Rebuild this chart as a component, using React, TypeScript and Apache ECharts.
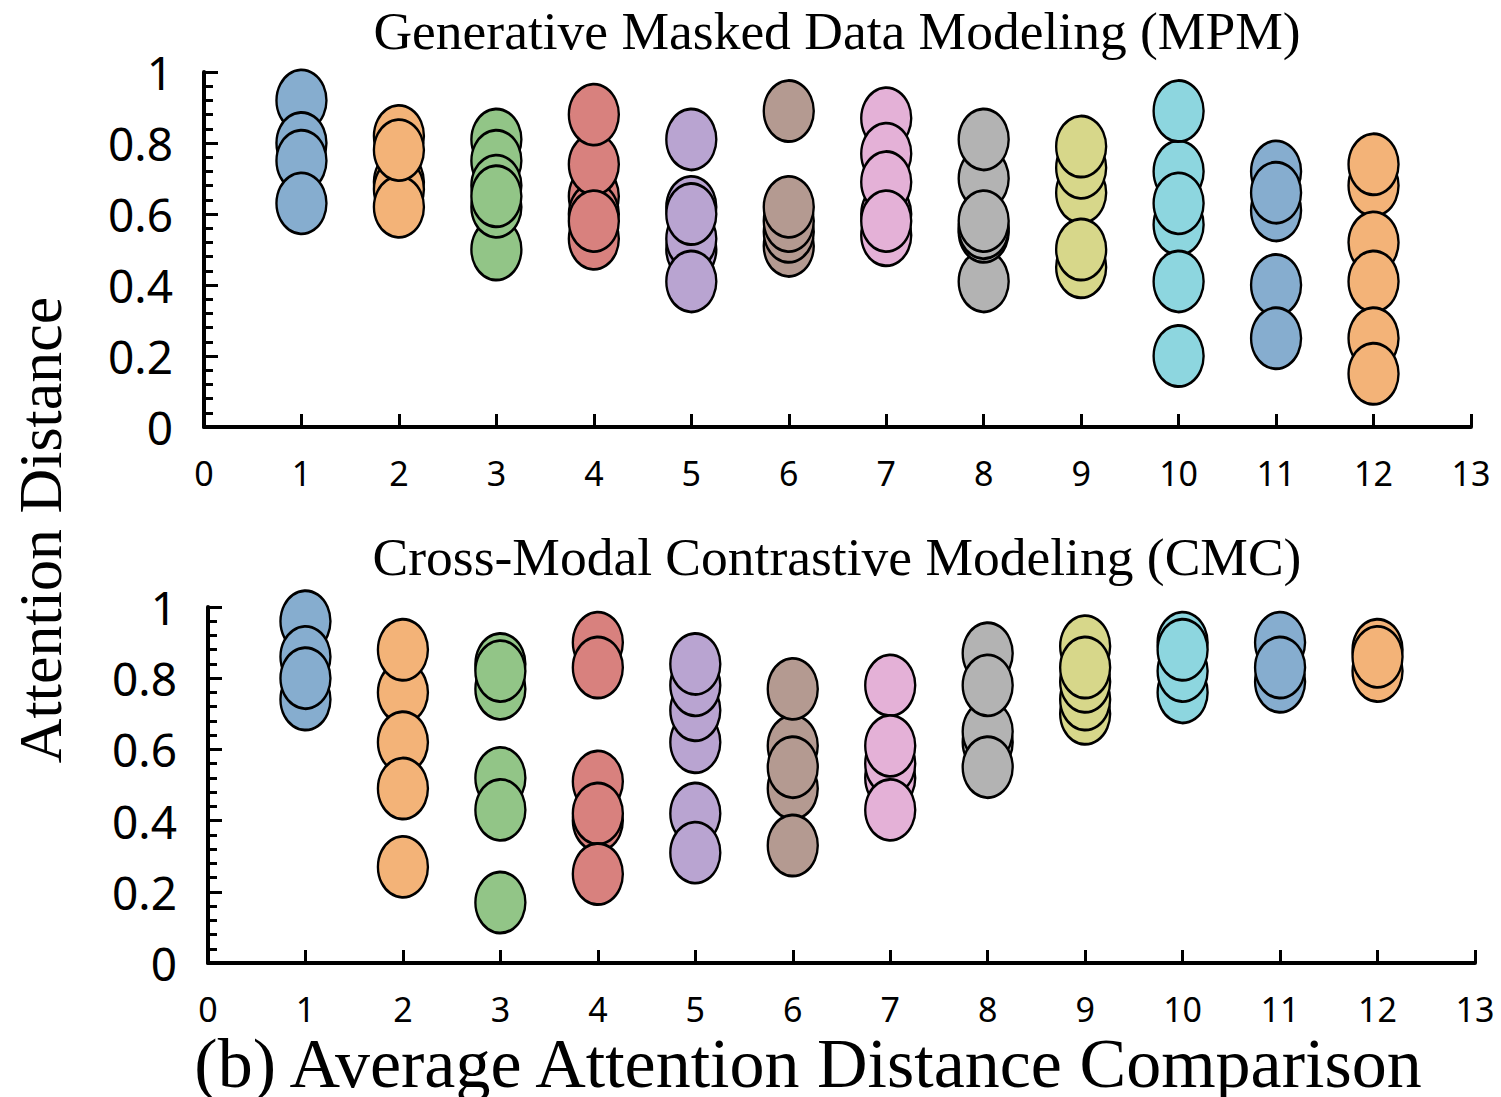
import React, { useEffect, useRef } from "react";
import * as echarts from "echarts";

// Layer indices 1..12
const layers = [1, 2, 3, 4, 5, 6, 7, 8, 9, 10, 11, 12];
const xTicks = [0, 1, 2, 3, 4, 5, 6, 7, 8, 9, 10, 11, 12, 13];
const yTicks = [0, 0.2, 0.4, 0.6, 0.8, 1];

const layerColors = [
  "#86adcf", "#f3b378", "#92c587", "#d8817e", "#b9a4d1", "#b49a91",
  "#e4b1d7", "#b3b3b3", "#d7d78a", "#8dd6df", "#86adcf", "#f3b378",
];

// Generative Masked Data Modeling (MPM): per-layer head attention distances
const mpmL1 = [0.92, 0.8, 0.75, 0.63];
const mpmL2 = [0.82, 0.69, 0.67, 0.62, 0.78];
const mpmL3 = [0.5, 0.81, 0.75, 0.68, 0.62, 0.65];
const mpmL4 = [0.53, 0.65, 0.6, 0.74, 0.88, 0.58];
const mpmL5 = [0.5, 0.53, 0.62, 0.41, 0.6, 0.81];
const mpmL6 = [0.51, 0.55, 0.58, 0.62, 0.89];
const mpmL7 = [0.54, 0.6, 0.87, 0.77, 0.69, 0.58];
const mpmL8 = [0.41, 0.55, 0.56, 0.7, 0.58, 0.81];
const mpmL9 = [0.45, 0.66, 0.73, 0.79, 0.5];
const mpmL10 = [0.57, 0.72, 0.63, 0.41, 0.89, 0.2];
const mpmL11 = [0.61, 0.72, 0.66, 0.4, 0.25];
const mpmL12 = [0.68, 0.74, 0.52, 0.41, 0.25, 0.15];

// Cross-Modal Contrastive Modeling (CMC)
const cmcL1 = [0.74, 0.96, 0.86, 0.8];
const cmcL2 = [0.76, 0.88, 0.62, 0.49, 0.27];
const cmcL3 = [0.77, 0.84, 0.82, 0.52, 0.43, 0.17];
const cmcL4 = [0.9, 0.83, 0.51, 0.4, 0.42, 0.25];
const cmcL5 = [0.62, 0.71, 0.78, 0.84, 0.42, 0.31];
const cmcL6 = [0.61, 0.77, 0.49, 0.55, 0.33];
const cmcL7 = [0.52, 0.56, 0.78, 0.61, 0.43];
const cmcL8 = [0.62, 0.65, 0.87, 0.78, 0.55];
const cmcL9 = [0.7, 0.74, 0.79, 0.89, 0.83];
const cmcL10 = [0.76, 0.82, 0.9, 0.88];
const cmcL11 = [0.79, 0.9, 0.83];
const cmcL12 = [0.82, 0.88, 0.86];

const mpm = [mpmL1, mpmL2, mpmL3, mpmL4, mpmL5, mpmL6, mpmL7, mpmL8, mpmL9, mpmL10, mpmL11, mpmL12];
const cmc = [cmcL1, cmcL2, cmcL3, cmcL4, cmcL5, cmcL6, cmcL7, cmcL8, cmcL9, cmcL10, cmcL11, cmcL12];

const titleTop = "Generative Masked Data Modeling (MPM)";
const titleBottom = "Cross-Modal Contrastive Modeling (CMC)";
const caption = "(b) Average Attention Distance Comparison";
const yName = "Attention Distance";

const SERIF = "'Liberation Serif', 'Times New Roman', serif";
const SANS = "'Noto Sans', 'DejaVu Sans', sans-serif";

function xAxisFor(gridIndex: number) {
  return {
    type: "value",
    gridIndex,
    min: xTicks[0],
    max: xTicks[xTicks.length - 1],
    interval: 1,
    axisLine: { show: true, onZero: false, lineStyle: { color: "#000", width: 4 } },
    axisTick: { show: true, inside: true, length: 13, lineStyle: { color: "#000", width: 3 } },
    axisLabel: { color: "#000", fontFamily: SANS, fontSize: 34, lineHeight: 32, margin: 30 },
    splitLine: { show: false },
  };
}

function yAxisFor(gridIndex: number) {
  return {
    type: "value",
    gridIndex,
    min: yTicks[0],
    max: yTicks[yTicks.length - 1],
    interval: 0.2,
    axisLine: { show: true, onZero: false, lineStyle: { color: "#000", width: 4 } },
    axisTick: { show: true, inside: true, length: 14, lineStyle: { color: "#000", width: 3 } },
    minorTick: { show: true, splitNumber: 5, length: 9, lineStyle: { color: "#000", width: 3 } },
    axisLabel: {
      color: "#000",
      fontFamily: SANS,
      fontSize: 46,
      margin: 31,
      formatter: (v: number) => String(Math.round(v * 10) / 10),
    },
    splitLine: { show: false },
  };
}

function seriesFor(groups: number[][], axisIndex: number) {
  return groups.map((vals, i) => ({
    type: "scatter",
    xAxisIndex: axisIndex,
    yAxisIndex: axisIndex,
    symbol: "circle",
    symbolSize: [50, 61],
    data: vals.map((v) => [layers[i], v]),
    itemStyle: { color: layerColors[i], borderColor: "#000", borderWidth: 2.6, opacity: 1 },
    emphasis: { disabled: true },
  }));
}

function textEl(text: string, x: number, y: number, size: number, lineHeight: number, rotation = 0) {
  return {
    type: "text",
    x,
    y,
    rotation,
    style: {
      text,
      font: `${size}px ${SERIF}`,
      fill: "#000",
      align: "center",
      verticalAlign: "middle",
      textAlign: "center",
      textVerticalAlign: "middle",
      lineHeight,
    },
  };
}

export default function App() {
  const ref = useRef<HTMLDivElement>(null);
  useEffect(() => {
    document.body.style.margin = "0";
    const chart = echarts.init(ref.current!, undefined, { renderer: "svg" });
    chart.setOption({
      animation: false,
      backgroundColor: "#fff",
      grid: [
        { left: 204, top: 72, width: 1267, height: 355 },
        { left: 208, top: 607, width: 1267, height: 356 },
      ],
      xAxis: [xAxisFor(0), xAxisFor(1)],
      yAxis: [yAxisFor(0), yAxisFor(1)],
      series: [...seriesFor(mpm, 0), ...seriesFor(cmc, 1)],
      graphic: [
        textEl(titleTop, 837, 31, 53.5, 54),
        textEl(titleBottom, 837, 557, 53.5, 54),
        textEl(caption, 808, 1063, 70, 60),
        textEl(yName, 40, 530, 62, 62, Math.PI / 2),
      ],
    });
    return () => chart.dispose();
  }, []);
  return (
    <div
      ref={ref}
      style={{ position: "absolute", left: 0, top: 0, width: 1501, height: 1097, background: "#fff" }}
    />
  );
}
